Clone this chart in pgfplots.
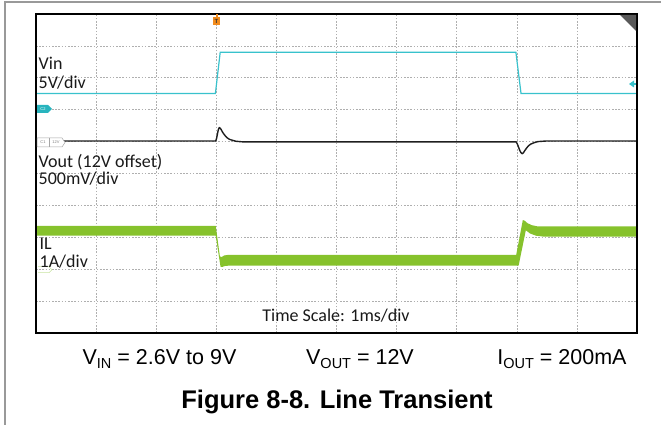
\documentclass[border=0pt]{standalone}
\usepackage{pgfplots}
\pgfplotsset{compat=1.18}
\usepackage{fontspec}
\setmainfont{Liberation Sans}
\newfontfamily\scopefont{Carlito}
\definecolor{vincyan}{RGB}{56,194,204}
\definecolor{tagcyan}{RGB}{40,180,190}
\definecolor{ilgreen}{RGB}{134,194,44}
\definecolor{trig}{RGB}{242,140,30}
\definecolor{gridgray}{RGB}{175,175,175}
\newcommand\sub[1]{\raisebox{-4pt}{\fontsize{14.5}{14.5}\selectfont #1}}
\begin{document}
\begin{tikzpicture}[x=1pt,y=1pt]
\useasboundingbox (0,0) rectangle (661,425);
% outer figure frame (left and top)
\draw[line width=1.5pt, gray!80] (5,0) -- (5,423) -- (661,423);
\begin{axis}[
  at={(36pt,92pt)}, anchor=south west,
  scale only axis, width=601pt, height=319pt,
  xmin=0, xmax=10, ymin=0, ymax=10,
  xtick={1,...,9}, ytick={1,...,9},
  xticklabels={}, yticklabels={},
  major tick length=0pt,
  grid=major,
  grid style={dash pattern=on 1.6pt off 1.6pt, gridgray, line width=0.6pt},
  axis line style={line width=2.2pt, black},
  clip=true,
]
% IL (inductor current) band: upper envelope then lower envelope
\addplot[fill=ilgreen, draw=none] coordinates {
 (0,3.36) (2.99,3.36) (3.06,2.40) (3.09,2.38) (3.13,2.43) (3.20,2.45)
 (7.99,2.45) (8.10,3.54) (8.13,3.52) (8.18,3.44) (8.25,3.38) (8.35,3.34) (10,3.34)
 (10,3.02) (8.45,3.02) (8.32,3.05) (8.22,3.12) (8.15,3.22) (8.03,2.11)
 (3.20,2.11) (3.14,2.10) (3.10,2.07) (3.07,2.08) (2.99,3.05) (0,3.05)
} -- cycle;
% Vin
\addplot[vincyan, line width=1.2pt] coordinates {
 (0,7.51) (2.985,7.51) (3.065,8.80) (7.985,8.80) (8.07,7.51) (10,7.51)
};
% Vout (AC, 12V offset)
\addplot[black!88, line width=1.4pt, line join=round] coordinates {
 (0,6.02) (2.99,6.02) (3.005,6.10) (3.02,6.25) (3.035,6.38) (3.05,6.44)
 (3.065,6.42) (3.08,6.38) (3.10,6.31) (3.12,6.25) (3.15,6.18) (3.18,6.12)
 (3.22,6.07) (3.27,6.04) (3.33,6.01) (3.45,5.99)
 (7.99,5.99) (8.01,5.92) (8.03,5.82) (8.05,5.72) (8.07,5.65) (8.09,5.62)
 (8.11,5.65) (8.13,5.71) (8.16,5.79) (8.19,5.86) (8.23,5.92) (8.28,5.96)
 (8.35,6.00) (8.50,6.02) (10,6.02)
};
\end{axis}
% scope frame redrawn on top
\draw[line width=2.2pt] (36,92) rectangle (637,411);
% top-right corner triangle
\fill[black!65] (620,410) -- (636,410) -- (636,394) -- cycle;
% trigger marker
\fill[trig] (215.6,411) rectangle (217.6,408);
\fill[trig] (213,408) rectangle (220,400);
\node[font=\bfseries\fontsize{6}{6}\selectfont, text=black!80, inner sep=0] at (216.5,404) {T};
% C2 tag
\fill[tagcyan] (37,320) -- (48,320) -- (52,316) -- (48,312) -- (37,312) -- cycle;
\node[font=\fontsize{4}{4}\selectfont, text=white, inner sep=0] at (43,316) {C2};
% C1 tag
\draw[gray!70, fill=white, line width=0.5pt] (37,287) -- (62,287) -- (65,282.5) -- (62,278) -- (37,278) -- cycle;
\draw[gray!70, line width=0.5pt] (49,287) -- (49,278);
\node[font=\fontsize{4}{4}\selectfont, text=gray, inner sep=0] at (43,282.5) {C1};
\node[font=\fontsize{4}{4}\selectfont, text=gray, inner sep=0] at (56,282.5) {12V};
% IL tag (faint)
\draw[ilgreen!45, line width=0.6pt] (38,158.3) -- (49,158.3) -- (52,155.3) -- (49,152.3) -- (38,152.3);
% trigger level arrow right
\fill[vincyan] (629,341) -- (634,344.5) -- (634,337.5) -- cycle;
\draw[vincyan, line width=1.6pt] (633,341) -- (636,341);
% scope labels
\begin{scope}[every node/.style={anchor=base west, inner sep=0, font=\scopefont\fontsize{18}{18}\selectfont, text=black!90}]
\node at (38.5,355) {Vin};
\node at (38.5,336) {5V/div};
\node at (38.5,257.7) {Vout (12V offset)};
\node at (38.5,240) {500mV/div};
\node at (39.5,175) {IL};
\node at (39.5,157) {1A/div};
\end{scope}
\node[anchor=base, inner sep=0, font=\scopefont\fontsize{18}{18}\selectfont, text=black!90] at (336,103) {Time Scale: 1ms/div};
% conditions
\begin{scope}[every node/.style={anchor=base, inner sep=0, font=\fontsize{21.5}{21.5}\selectfont}]
\node at (159.5,60) {V\sub{IN} = 2.6V to 9V};
\node at (360,60) {V\sub{OUT} = 12V};
\node at (562,60) {I\sub{OUT} = 200mA};
\end{scope}
\node[anchor=base, inner sep=0, font=\bfseries\fontsize{25.5}{25.5}\selectfont] at (337,16) {Figure 8-8. Line Transient};
\end{tikzpicture}
\end{document}
